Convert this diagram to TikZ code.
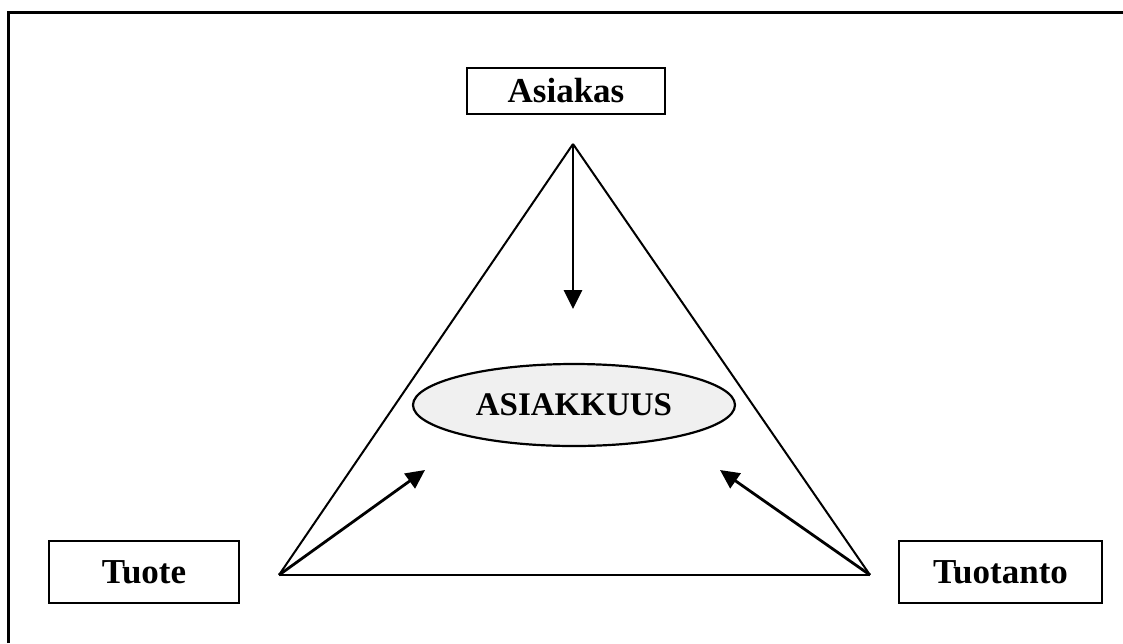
\documentclass[tikz,border=0pt]{standalone}
\usepackage{fontspec}
\setmainfont{Liberation Serif}
\usetikzlibrary{arrows.meta,shapes.geometric}
\begin{document}
\begin{tikzpicture}[x=1pt,y=-1pt,
  box/.style={draw,line width=2.6pt,inner sep=0pt,font=\fontsize{35}{40}\selectfont\bfseries},
  oval/.style={draw,ellipse,fill=black!6,line width=2.2pt,inner sep=0pt,minimum width=322pt,minimum height=82pt,font=\fontsize{33}{38}\selectfont\bfseries},
  edge/.style={line width=2pt},
  arr/.style={line width=2.8pt,-{Triangle[length=19pt,width=18pt]}}]
\useasboundingbox (0,0) rectangle (1123,643);
\draw[line width=3pt] (8,643) -- (8,12) -- (1123,12);
\node[box,minimum width=198pt,minimum height=46pt] (asiakas) at (566,91) {Asiakas};
\node[box,minimum width=190pt,minimum height=62pt] (tuote) at (144,572) {Tuote};
\node[box,minimum width=203pt,minimum height=62pt] (tuotanto) at (1000.5,572) {Tuotanto};
\node[oval] (asiakkuus) at (574,405) {ASIAKKUUS};
\coordinate (top) at (573,144);
\coordinate (bl) at (279,575);
\coordinate (br) at (870,575);
\coordinate (t1) at (573,309);
\coordinate (t2) at (425,470);
\coordinate (t3) at (720,470);
\draw[edge] (top) -- (bl);
\draw[edge] (top) -- (br);
\draw[line width=2.8pt] (bl) -- (br);
\draw[arr] (top) -- (t1);
\draw[arr] (bl) -- (t2);
\draw[arr] (br) -- (t3);
\end{tikzpicture}
\end{document}
